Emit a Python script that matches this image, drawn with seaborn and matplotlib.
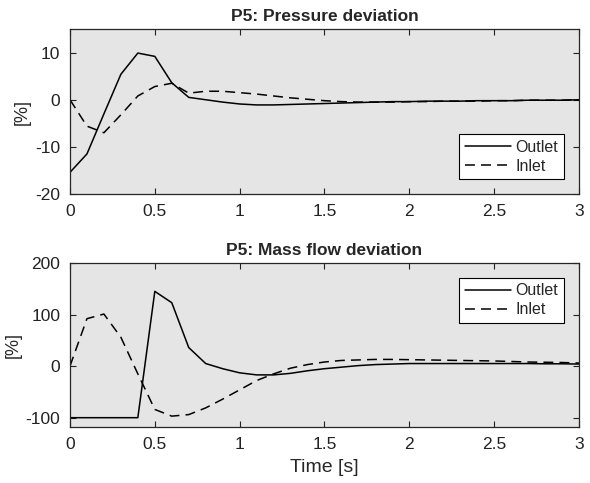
import numpy as np
import pandas as pd
import matplotlib
matplotlib.use("Agg")
import matplotlib.pyplot as plt
import seaborn as sns

# time axis, 0.1 s steps
time = [round(0.1 * i, 1) for i in range(31)]

# P5 pressure deviation [%]
pressure_outlet = [-15.4, -11.5, -3.0, 5.4, 9.9, 9.2, 3.6, 0.5, 0.0, -0.5,
                   -0.9, -1.1, -1.1, -1.0, -0.9, -0.8, -0.7, -0.6, -0.5, -0.4,
                   -0.4, -0.3, -0.3, -0.3, -0.2, -0.2, -0.2, -0.1, -0.1, -0.1, 0.0]
pressure_inlet = [0.0, -5.6, -7.0, -3.2, 0.8, 2.8, 3.5, 1.4, 1.8, 1.8,
                  1.5, 1.2, 0.8, 0.4, 0.1, -0.2, -0.4, -0.5, -0.5, -0.5,
                  -0.4, -0.4, -0.3, -0.3, -0.3, -0.2, -0.2, -0.1, -0.1, -0.1, 0.0]

# P5 mass flow deviation [%]
massflow_outlet = [-100, -100, -100, -100, -100, 145, 123, 36, 5, -5,
                   -13, -17, -17, -14, -9, -5, -2, 1, 3, 4,
                   5, 5, 5, 5, 5, 5, 5, 5, 4.5, 4.5, 4]
massflow_inlet = [0, 92, 101, 56, -15, -84, -97, -94, -81, -64,
                  -46, -28, -15, -4, 3, 8, 11, 12, 13, 13,
                  12.5, 12, 11.5, 11, 10.5, 10, 9, 8, 7.5, 7, 6]

sns.set_style("ticks")
plt.rcParams["font.family"] = ["Liberation Sans", "DejaVu Sans"]
plt.rcParams["axes.unicode_minus"] = False

fig = plt.figure(figsize=(5.9, 4.83), dpi=100)
ax1 = fig.add_axes([0.1186, 0.5983, 0.8627, 0.3416])
ax2 = fig.add_axes([0.1186, 0.116, 0.8627, 0.3395])


def draw(ax, outlet, inlet, title, ylim, yticks, legend_loc, legend_anchor):
    df = pd.DataFrame({
        "Time": time * 2,
        "value": outlet + inlet,
        "series": ["Outlet"] * len(time) + ["Inlet"] * len(time),
    })
    sns.lineplot(data=df, x="Time", y="value", style="series",
                 dashes={"Outlet": "", "Inlet": (6.5, 4)},
                 color="black", linewidth=1.1, ax=ax)
    ax.set_facecolor("#e5e5e5")
    ax.set_xlim(0, 3)
    ax.set_ylim(*ylim)
    ax.set_xticks([0, 0.5, 1, 1.5, 2, 2.5, 3])
    ax.set_xticklabels(["0", "0.5", "1", "1.5", "2", "2.5", "3"])
    ax.set_yticks(yticks)
    ax.tick_params(direction="in", top=True, right=True, labelsize=12.5,
                   length=4, width=0.8, pad=7, colors="#222222")
    for s in ax.spines.values():
        s.set_color("#262626")
        s.set_linewidth(0.9)
    ax.set_title(title, fontsize=12.5, fontweight="bold", pad=6)
    ax.set_ylabel("[%]", fontsize=13, labelpad=3)
    ax.set_xlabel("")
    leg = ax.legend(loc=legend_loc, bbox_to_anchor=legend_anchor,
                    fancybox=False, framealpha=1, edgecolor="black",
                    fontsize=11.5, handlelength=2.9, handletextpad=0.3,
                    borderpad=0.35, labelspacing=0.25, borderaxespad=0)
    leg.get_frame().set_linewidth(0.8)


draw(ax1, pressure_outlet, pressure_inlet, "P5: Pressure deviation",
     (-20, 15), [-20, -10, 0, 10], "lower right", (0.9705, 0.09))
draw(ax2, massflow_outlet, massflow_inlet, "P5: Mass flow deviation",
     (-118, 200), [-100, 0, 100, 200], "upper right", (0.9705, 0.91))
ax2.set_xlabel("Time [s]", fontsize=14, labelpad=5)

fig.savefig("out.png", dpi=100)
